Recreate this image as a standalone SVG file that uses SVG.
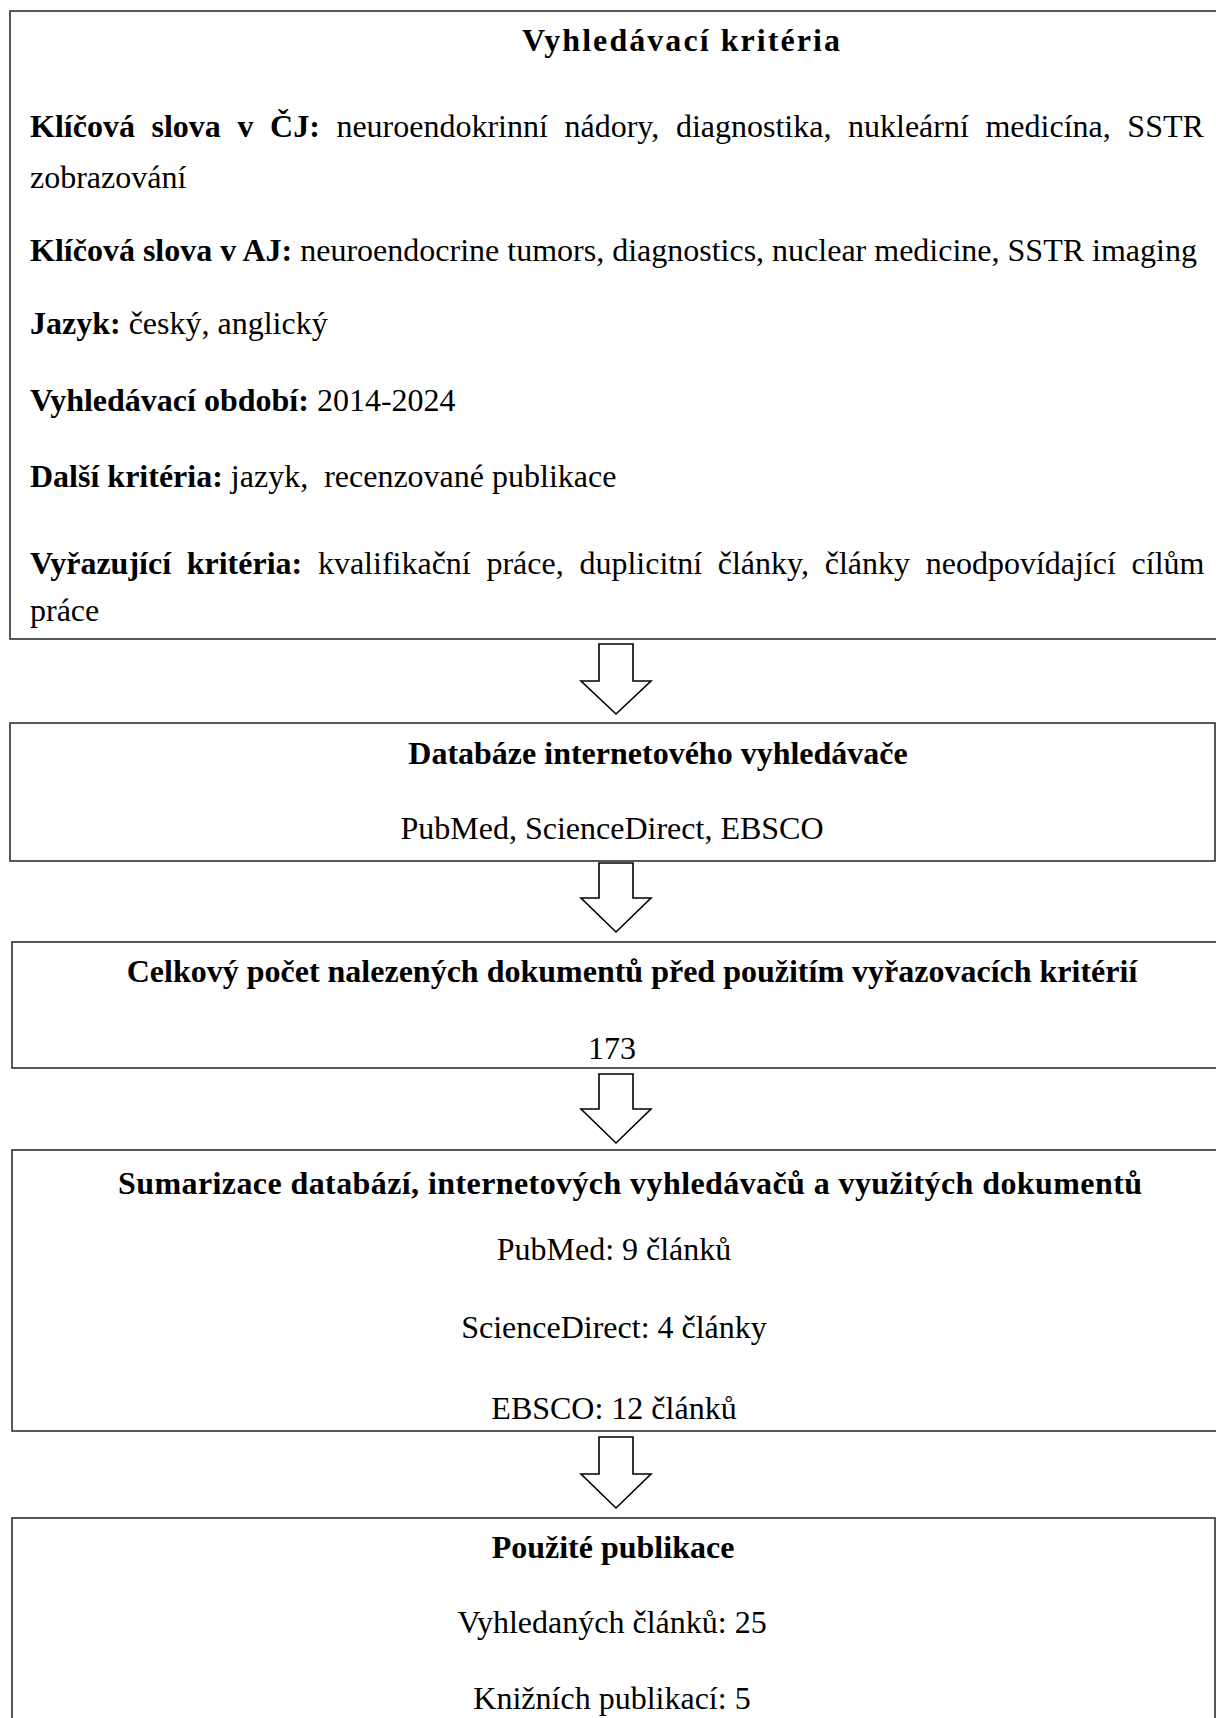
<svg xmlns="http://www.w3.org/2000/svg" width="1216" height="1718" viewBox="0 0 1216 1718">
<style>
.box{fill:#fff;stroke:#222;stroke-width:1.5}
.arr{fill:#fff;stroke:#000;stroke-width:1.6;stroke-linejoin:miter}
text{font-family:"Liberation Serif","Times New Roman",serif;font-size:32px;fill:#000}
.b{font-weight:bold}
.c{text-anchor:middle}
</style>
<rect width="1216" height="1718" fill="#fff"/>
<g id="connectors">
<polygon class="arr" points="599,644 633,644 633,681 651,681 616,714 581,681 599,681"/>
<polygon class="arr" points="599,863 633,863 633,898 651,898 616,932 581,898 599,898"/>
<polygon class="arr" points="599,1074 633,1074 633,1109 651,1109 616,1143 581,1109 599,1109"/>
<polygon class="arr" points="599,1437 633,1437 633,1474 651,1474 616,1508 581,1474 599,1474"/>
</g>
<g id="node-criteria">
<rect class="box" x="10" y="11" width="1300" height="628"/>
<text class="b c" x="681" y="51" textLength="318" lengthAdjust="spacing">Vyhledávací kritéria</text>
<text x="30" y="137" word-spacing="8.6"><tspan class="b">Klíčová slova v ČJ:</tspan> neuroendokrinní nádory, diagnostika, nukleární medicína, SSTR</text>
<text x="30" y="188">zobrazování</text>
<text x="30" y="261"><tspan class="b">Klíčová slova v AJ:</tspan> neuroendocrine tumors, diagnostics, nuclear medicine, SSTR imaging</text>
<text x="30" y="334"><tspan class="b">Jazyk:</tspan> český, anglický</text>
<text x="30" y="411"><tspan class="b">Vyhledávací období:</tspan> 2014-2024</text>
<text x="30" y="487" xml:space="preserve"><tspan class="b">Další kritéria:</tspan> jazyk,  recenzované publikace</text>
<text x="30" y="574" word-spacing="7.7"><tspan class="b">Vyřazující kritéria:</tspan> kvalifikační práce, duplicitní články, články neodpovídající cílům</text>
<text x="30" y="621">práce</text>
</g>
<g id="node-databases">
<rect class="box" x="10" y="723" width="1205" height="138"/>
<text class="b c" x="658" y="764">Databáze internetového vyhledávače</text>
<text class="c" x="612" y="839">PubMed, ScienceDirect, EBSCO</text>
</g>
<g id="node-total">
<rect class="box" x="12" y="942" width="1300" height="126"/>
<text class="b c" x="632" y="982">Celkový počet nalezených dokumentů před použitím vyřazovacích kritérií</text>
<text class="c" x="612" y="1059">173</text>
</g>
<g id="node-summary">
<rect class="box" x="12" y="1150" width="1300" height="281"/>
<text class="b c" x="630" y="1194" textLength="1024" lengthAdjust="spacing">Sumarizace databází, internetových vyhledávačů a využitých dokumentů</text>
<text class="c" x="614" y="1260">PubMed: 9 článků</text>
<text class="c" x="614" y="1338">ScienceDirect: 4 články</text>
<text class="c" x="614" y="1419">EBSCO: 12 článků</text>
</g>
<g id="node-used">
<rect class="box" x="12" y="1518" width="1203" height="240"/>
<text class="b c" x="613" y="1558">Použité publikace</text>
<text class="c" x="612" y="1633">Vyhledaných článků: 25</text>
<text class="c" x="612" y="1709">Knižních publikací: 5</text>
</g>
</svg>
